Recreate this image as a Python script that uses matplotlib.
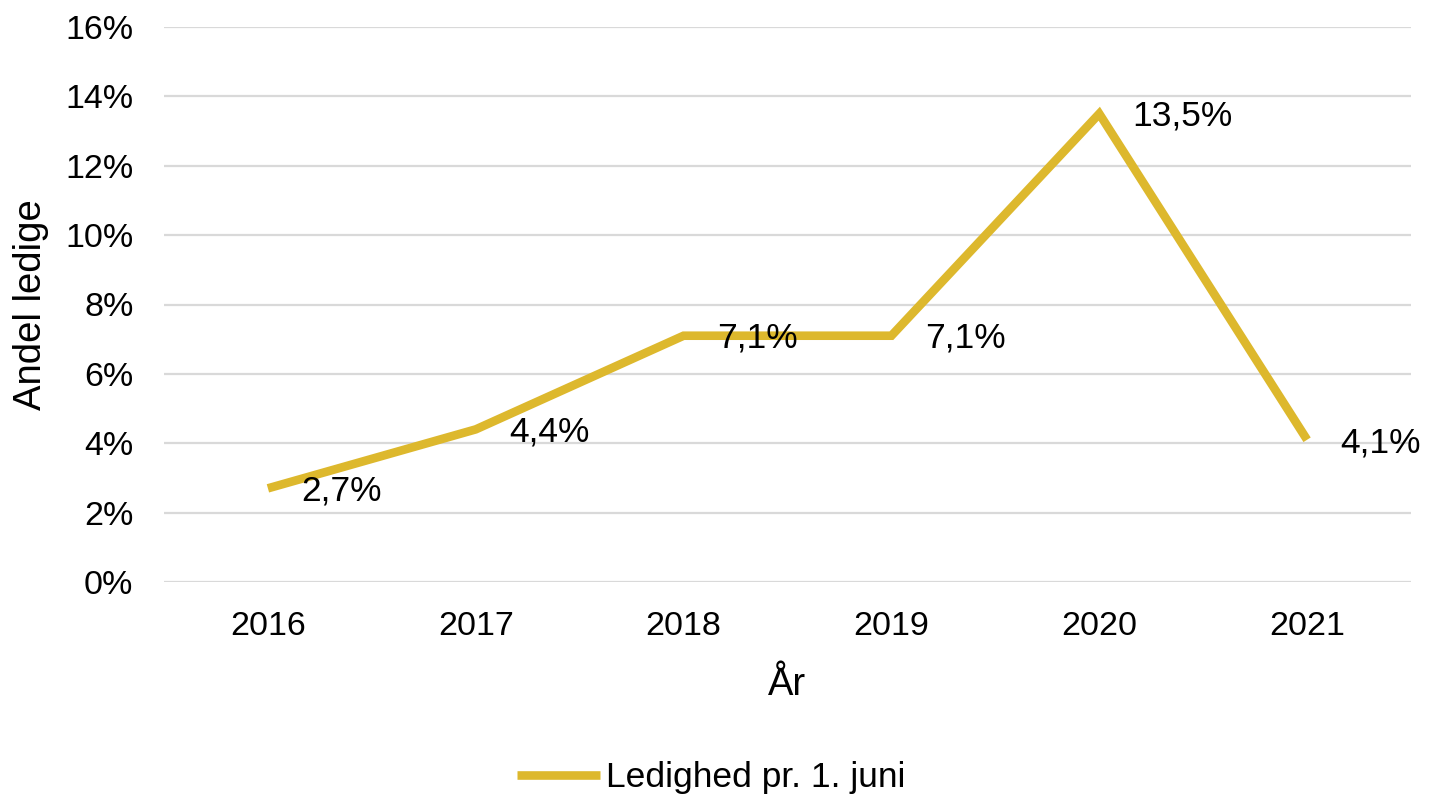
import matplotlib
matplotlib.use("Agg")
import matplotlib.pyplot as plt

years = ["2016", "2017", "2018", "2019", "2020", "2021"]
values = [2.7, 4.4, 7.1, 7.1, 13.5, 4.1]
labels = ["2,7%", "4,4%", "7,1%", "7,1%", "13,5%", "4,1%"]
yticks = [0, 2, 4, 6, 8, 10, 12, 14, 16]
series_name = "Ledighed pr. 1. juni"

plt.rcParams['font.family'] = ['Liberation Sans', 'DejaVu Sans']
FS_TICK = 24.5
FS_DATA = 25.5
FS_TITLE = 27.5

fig = plt.figure(figsize=(14.29, 8), dpi=100)
ax = fig.add_axes([164/1429, 1-582/800, (1411-164)/1429, (582-27)/800])

x = list(range(len(years)))
line, = ax.plot(x, values, color='#DDB82D', linewidth=6.2, solid_joinstyle='miter',
                solid_capstyle='butt', label=series_name, zorder=3)

for xi, v, lab in zip(x, values, labels):
    ax.annotate(lab, (xi, v), xytext=(24, -2), textcoords='offset points',
                ha='left', va='center', fontsize=FS_DATA, color='#000000', zorder=4)

ax.set_xlim(-0.5, len(years)-0.5)
ax.set_ylim(0, 16)
ax.set_yticks(yticks)
ax.set_yticklabels([f"{t}%" for t in yticks])
ax.set_xticks(x)
ax.set_xticklabels(years)
ax.tick_params(axis='both', length=0, labelsize=FS_TICK, colors='#000000')
ax.tick_params(axis='y', pad=22)
ax.tick_params(axis='x', pad=21)
ax.yaxis.grid(True, color='#D9D9D9', linewidth=1.6)
ax.set_axisbelow(True)
for s in ax.spines.values():
    s.set_visible(False)

ax.set_xlabel("År", fontsize=FS_TITLE, labelpad=18)
ax.set_ylabel("Andel ledige", fontsize=FS_TITLE, labelpad=12)

fig.legend(handles=[line], loc='center', bbox_to_anchor=(711/1429, 0.0275),
           frameon=False, fontsize=FS_DATA, handlelength=2.35, handletextpad=0.15)

fig.savefig("out.png", dpi=100)
